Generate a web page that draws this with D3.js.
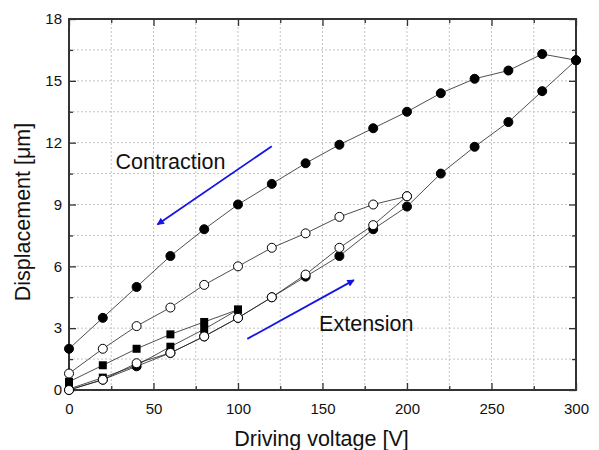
<!DOCTYPE html>
<html>
<head>
<meta charset="utf-8">
<script src="https://cdn.jsdelivr.net/npm/d3@7"></script>
<style>
  body { margin: 0; background: #fff; }
  text { font-family: "Liberation Sans", Arial, sans-serif; }
</style>
</head>
<body>
<div id="chart"></div>
<script>
// ---- data ----
var voltsBig = [0, 20, 40, 60, 80, 100, 120, 140, 160, 180, 200, 220, 240, 260, 280, 300];
var bigExtension = [0.0, 0.5, 1.15, 1.8, 2.6, 3.5, 4.5, 5.5, 6.5, 7.8, 8.9, 10.5, 11.8, 13.0, 14.5, 16.0];
var bigContraction = [2.0, 3.5, 5.0, 6.5, 7.8, 9.0, 10.0, 11.0, 11.9, 12.7, 13.5, 14.4, 15.1, 15.5, 16.3, 16.0];

var voltsMid = [0, 20, 40, 60, 80, 100, 120, 140, 160, 180, 200];
var midExtension = [0.0, 0.5, 1.3, 1.8, 2.6, 3.5, 4.5, 5.6, 6.9, 8.0, 9.4];
var midContraction = [0.8, 2.0, 3.1, 4.0, 5.1, 6.0, 6.9, 7.6, 8.4, 9.0, 9.4];

var voltsSmall = [0, 20, 40, 60, 80, 100];
var smallExtension = [0.05, 0.6, 1.2, 2.1, 2.95, 3.9];
var smallContraction = [0.4, 1.2, 2.0, 2.7, 3.3, 3.9];

var xTicks = [0, 50, 100, 150, 200, 250, 300];
var yTicks = [0, 3, 6, 9, 12, 15, 18];

// arrows in data units: [x1, y1, x2, y2]
var contractionArrow = [120, 11.83, 52.3, 8.03];
var extensionArrow = [105.5, 2.48, 168.6, 5.33];

// ---- set up ----
var svgWidth = 599, svgHeight = 450;
var margin = {left: 69, right: 23, top: 19, bottom: 60};
var chartWidth = svgWidth - margin.left - margin.right,
    chartHeight = svgHeight - margin.top - margin.bottom;

var svg = d3.select("#chart").append("svg")
  .attr("width", svgWidth)
  .attr("height", svgHeight);

var chart = svg.append("g")
  .attr("transform", `translate(${margin.left}, ${margin.top})`);

var x = d3.scaleLinear().domain([0, 300]).range([0, chartWidth]);
var y = d3.scaleLinear().domain([0, 18]).range([chartHeight, 0]);

// grid (every minor tick)
var xGrid = d3.range(25, 300, 25);
var yGrid = d3.range(1.5, 18, 1.5);
chart.append("g").selectAll("line").data(xGrid).enter().append("line")
  .attr("x1", d => x(d)).attr("x2", d => x(d))
  .attr("y1", 0).attr("y2", chartHeight)
  .attr("stroke", "#c4c4c4").attr("stroke-dasharray", "2,2");
chart.append("g").selectAll("line").data(yGrid).enter().append("line")
  .attr("y1", d => y(d)).attr("y2", d => y(d))
  .attr("x1", 0).attr("x2", chartWidth)
  .attr("stroke", "#c4c4c4").attr("stroke-dasharray", "2,2");

// axes, ticks inward
var xMinor = d3.range(25, 300, 50);
var yMinor = d3.range(1.5, 18, 3);

function styleAxis(g) {
  g.select(".domain").remove();
  g.selectAll(".tick line").attr("stroke", "#333").attr("stroke-width", 1.3);
  g.selectAll(".tick text").attr("fill", "#111").style("font-size", "15px")
    .style("font-family", "'Liberation Sans', Arial, sans-serif");
}

chart.append("g")
  .attr("transform", `translate(0, ${chartHeight})`)
  .call(d3.axisBottom(x).tickValues(xTicks).tickSize(-7).tickPadding(13))
  .call(styleAxis);
chart.append("g")
  .attr("transform", `translate(0, ${chartHeight})`)
  .call(d3.axisBottom(x).tickValues(xMinor).tickSize(-4).tickFormat(""))
  .call(styleAxis);
chart.append("g")
  .call(d3.axisTop(x).tickValues(xTicks).tickSize(-7).tickFormat(""))
  .call(styleAxis);
chart.append("g")
  .call(d3.axisTop(x).tickValues(xMinor).tickSize(-4).tickFormat(""))
  .call(styleAxis);

chart.append("g")
  .call(d3.axisLeft(y).tickValues(yTicks).tickSize(-7).tickPadding(7))
  .call(styleAxis);
chart.append("g")
  .call(d3.axisLeft(y).tickValues(yMinor).tickSize(-4).tickFormat(""))
  .call(styleAxis);
chart.append("g")
  .attr("transform", `translate(${chartWidth}, 0)`)
  .call(d3.axisRight(y).tickValues(yTicks).tickSize(-7).tickFormat(""))
  .call(styleAxis);
chart.append("g")
  .attr("transform", `translate(${chartWidth}, 0)`)
  .call(d3.axisRight(y).tickValues(yMinor).tickSize(-4).tickFormat(""))
  .call(styleAxis);

// frame
chart.append("rect")
  .attr("width", chartWidth).attr("height", chartHeight)
  .attr("fill", "none").attr("stroke", "#333").attr("stroke-width", 2);

// ---- loops ----
function loopPoints(volts, ext, con) {
  var pts = volts.map((v, i) => [v, ext[i]]);
  for (var i = volts.length - 1; i >= 0; i--) pts.push([volts[i], con[i]]);
  return pts;
}

var line = d3.line().x(d => x(d[0])).y(d => y(d[1]));

var bigLoop = loopPoints(voltsBig, bigExtension, bigContraction);
var smallLoop = loopPoints(voltsSmall, smallExtension, smallContraction);
var midLoop = loopPoints(voltsMid, midExtension, midContraction);

function drawLoop(pts, marker) {
  chart.append("path")
    .datum(pts)
    .attr("d", line)
    .attr("fill", "none")
    .attr("stroke", "#222")
    .attr("stroke-width", 0.8);
  var g = chart.append("g");
  if (marker === "square") {
    g.selectAll("rect").data(pts).enter().append("rect")
      .attr("x", d => x(d[0]) - 4).attr("y", d => y(d[1]) - 4)
      .attr("width", 8).attr("height", 8)
      .attr("fill", "#000");
  } else {
    g.selectAll("circle").data(pts).enter().append("circle")
      .attr("cx", d => x(d[0])).attr("cy", d => y(d[1]))
      .attr("r", 4.5)
      .attr("fill", marker === "open" ? "#fff" : "#000")
      .attr("stroke", "#000").attr("stroke-width", 1);
  }
}

drawLoop(bigLoop, "filled");
drawLoop(smallLoop, "square");
drawLoop(midLoop, "open");

// ---- arrows & labels ----
svg.append("defs").append("marker")
  .attr("id", "head")
  .attr("viewBox", "0 0 10 10")
  .attr("refX", 9).attr("refY", 5)
  .attr("markerWidth", 5).attr("markerHeight", 4)
  .attr("orient", "auto")
  .append("path").attr("d", "M0,0 L10,5 L0,10 z").attr("fill", "#1414e6");

[contractionArrow, extensionArrow].forEach(function(a) {
  chart.append("line")
    .attr("x1", x(a[0])).attr("y1", y(a[1]))
    .attr("x2", x(a[2])).attr("y2", y(a[3]))
    .attr("stroke", "#1414e6").attr("stroke-width", 1.8)
    .attr("marker-end", "url(#head)");
});

chart.append("text")
  .attr("x", x(27.5)).attr("y", y(10.72))
  .style("font-size", "21.5px").attr("fill", "#111")
  .text("Contraction");
chart.append("text")
  .attr("x", x(148)).attr("y", y(2.86))
  .style("font-size", "21.5px").attr("fill", "#111")
  .text("Extension");

// axis titles
svg.append("text")
  .attr("x", 321.5).attr("y", 446)
  .attr("text-anchor", "middle")
  .style("font-size", "21.5px").attr("fill", "#111")
  .text("Driving voltage [V]");
svg.append("text")
  .attr("transform", `translate(30, 212) rotate(-90)`)
  .attr("text-anchor", "middle")
  .style("font-size", "21.5px").attr("fill", "#111")
  .text("Displacement [μm]");
</script>
</body>
</html>
